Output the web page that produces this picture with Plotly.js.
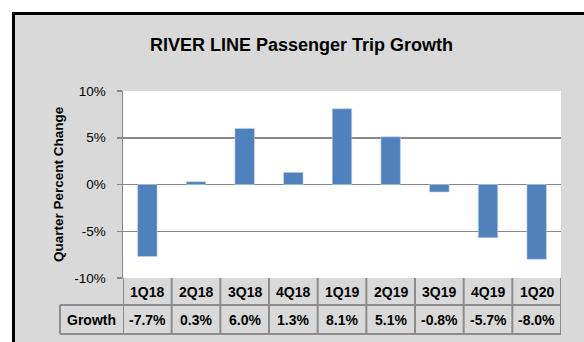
<!DOCTYPE html>
<html>
<head>
<meta charset="utf-8">
<script src="https://cdn.plot.ly/plotly-3.0.1.min.js"></script>
<style>html,body{margin:0;padding:0;background:#fff;}#chart{width:584px;height:342px;}</style>
</head>
<body>
<div id="chart"></div>
<script>
var quarters = ["1Q18","2Q18","3Q18","4Q18","1Q19","2Q19","3Q19","4Q19","1Q20"];
var growth = [-7.7, 0.3, 6.0, 1.3, 8.1, 5.1, -0.8, -5.7, -8.0];
var rowLabel = "Growth";
var titleText = "RIVER LINE Passenger Trip Growth";
var yTitle = "Quarter Percent Change";
var yTickVals = [-10, -5, 0, 5, 10];
var yTickText = ["-10%", "-5%", "0%", "5%", "10%"];

var W = 584, H = 342;
var L = 123, R = 23, T = 91, B = 64;
var pw = W - L - R, ph = H - T - B;
function px(x){ return (x - L) / pw; }
function py(y){ return (H - B - y) / ph; }

var FONT = "Liberation Sans, Arial, sans-serif";
var gridCol = "#888888";
var cellCol = "#8c8c8c";

var trace = {
  type: "bar",
  x: quarters.map(function(_, i){ return i; }),
  y: growth,
  marker: {color: "#4f81bd", line: {color: "#c5d4e9", width: 0.6}},
  width: 0.4,
  hoverinfo: "skip"
};

var shapes = [];
// background panel with black border
shapes.push({type:"rect", xref:"paper", yref:"paper", layer:"below",
  x0: px(13.5), x1: px(620), y0: py(13.5), y1: py(400),
  fillcolor:"#d9d9d9", line:{color:"#000", width:3}});
// white plot area
shapes.push({type:"rect", xref:"paper", yref:"paper", layer:"below",
  x0: 0, x1: 1, y0: 0, y1: 1, fillcolor:"#ffffff", line:{width:0}});

var row1Bot = py(305), row2Bot = py(334);
var growthLeft = px(60);
// horizontal table lines
shapes.push({type:"line", xref:"paper", yref:"paper", x0:0, x1:1, y0:row1Bot, y1:row1Bot, line:{color:cellCol, width:2}});
shapes.push({type:"line", xref:"paper", yref:"paper", x0:growthLeft, x1:1, y0:row2Bot, y1:row2Bot, line:{color:cellCol, width:2}});
shapes.push({type:"line", xref:"paper", yref:"paper", x0:growthLeft, x1:0, y0:row1Bot, y1:row1Bot, line:{color:cellCol, width:2}});
shapes.push({type:"line", xref:"paper", yref:"paper", x0:growthLeft, x1:growthLeft, y0:row1Bot, y1:row2Bot, line:{color:cellCol, width:2}});
// vertical category dividers
for (var i = 0; i <= quarters.length; i++) {
  shapes.push({type:"line", xref:"x", yref:"paper", x0:i-0.5, x1:i-0.5, y0:0, y1:row2Bot, line:{color:cellCol, width:2}});
}

var annotations = [];
quarters.forEach(function(q, i){
  annotations.push({xref:"x", yref:"paper", x:i, y:py(292), text:"<b>"+q+"</b>", showarrow:false,
    xanchor:"center", yanchor:"middle", font:{family:FONT, size:14, color:"#000"}});
  var v = growth[i].toFixed(1) + "%";
  annotations.push({xref:"x", yref:"paper", x:i, y:py(320), text:"<b>"+v+"</b>", showarrow:false,
    xanchor:"center", yanchor:"middle", font:{family:FONT, size:14, color:"#000"}});
});
annotations.push({xref:"paper", yref:"paper", x:(px(60)+0)/2, y:py(320), text:"<b>"+rowLabel+"</b>", showarrow:false,
  xanchor:"center", yanchor:"middle", font:{family:FONT, size:14, color:"#000"}});
annotations.push({xref:"paper", yref:"paper", x:px(58), y:py(184), text:"<b>"+yTitle+"</b>", showarrow:false,
  textangle:-90, xanchor:"center", yanchor:"middle", font:{family:FONT, size:13.5, color:"#000"}});

var layout = {
  width: W, height: H,
  margin: {l:L, r:R, t:T, b:B, pad:0},
  paper_bgcolor: "#ffffff",
  plot_bgcolor: "rgba(0,0,0,0)",
  showlegend: false,
  title: {text:"<b>"+titleText+"</b>", x: 301.5/W, xref:"container", xanchor:"center",
    y: 1 - 45/H, yref:"container", yanchor:"middle", font:{family:FONT, size:18, color:"#000"}},
  xaxis: {range:[-0.5, quarters.length-0.5], showticklabels:false, showgrid:false, zeroline:false,
    showline:false, ticks:"", fixedrange:true},
  yaxis: {range:[-10, 10], tickvals:yTickVals, ticktext:yTickText, showgrid:true, gridcolor:gridCol, gridwidth:1.5,
    zeroline:true, zerolinecolor:gridCol, zerolinewidth:1.5, showline:true, linecolor:gridCol, linewidth:1.5,
    ticks:"outside", ticklen:5, tickcolor:gridCol, tickwidth:1.5, ticklabelstandoff:8,
    tickfont:{family:FONT, size:13.5, color:"#000"}, fixedrange:true},
  shapes: shapes,
  annotations: annotations
};

Plotly.newPlot("chart", [trace], layout, {displayModeBar:false, staticPlot:true});
</script>
</body>
</html>
